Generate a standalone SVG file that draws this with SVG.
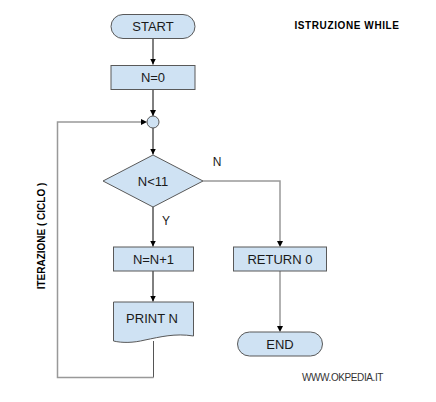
<svg xmlns="http://www.w3.org/2000/svg" width="436" height="402" viewBox="0 0 436 402">
<style>
.sh{fill:#cfe2f3;stroke:#595959;stroke-width:1}
.t{font-family:"Liberation Sans",Arial,sans-serif;font-size:13px;fill:#1a1a1a;text-anchor:middle;dominant-baseline:central}
.b{font-family:"Liberation Sans",Arial,sans-serif;font-weight:bold;font-size:10px;fill:#000}
.k{fill:none;stroke:#000;stroke-width:1}
.g{fill:none;stroke:#999;stroke-width:1.5}
.lb{font-family:"Liberation Sans",Arial,sans-serif;font-size:12px;fill:#1a1a1a}
</style>
<defs>
<marker id="ah" viewBox="0 0 10 10" refX="10" refY="5" markerWidth="6" markerHeight="6" markerUnits="userSpaceOnUse" orient="auto">
<path d="M0 0 L10 5 L0 10 Z" fill="#000"/>
</marker>
</defs>
<rect width="436" height="402" fill="#fff"/>
<g id="connectors">
<path class="k" d="M153 38.5 V64.5" marker-end="url(#ah)"/>
<path class="k" d="M153 89.5 V116" marker-end="url(#ah)"/>
<path class="k" d="M153 128 V154.5" marker-end="url(#ah)"/>
<path class="k" d="M153 206.5 V246.5" marker-end="url(#ah)"/>
<path class="k" d="M153 271 V301.5" marker-end="url(#ah)"/>
<path class="g" d="M203 181 H280 V241"/>
<path d="M277 241 L283 241 L280 247 Z" fill="#000"/>
<path class="g" d="M280 271 V326"/>
<path d="M277 326 L283 326 L280 332 Z" fill="#000"/>
<path fill="none" stroke="#555" stroke-width="1" d="M153.5 341 V377.5"/>
<path class="g" d="M153.5 377.5 H57.5 V122 H141"/>
<path d="M141 119 L147 122 L141 125 Z" fill="#000"/>
</g>
<g id="start"><rect class="sh" x="111" y="14.5" width="84" height="24" rx="12"/><text class="t" x="153" y="26.5">START</text></g>
<g id="n0"><rect class="sh" x="111" y="65.5" width="84" height="24"/><text class="t" x="153" y="77.5">N=0</text></g>
<g id="merge"><circle class="sh" cx="153" cy="122" r="6"/></g>
<g id="cond"><path class="sh" d="M153 155 L203 181 L153 207 L103 181 Z"/><text class="t" x="153" y="181">N&lt;11</text></g>
<g id="inc"><rect class="sh" x="113.5" y="247" width="80" height="24"/><text class="t" x="153.5" y="259">N=N+1</text></g>
<g id="print"><path class="sh" d="M113.5 302 H193.5 V336 C175 333 160 337 145 340 C133 343 122 343 113.5 341 Z"/><text class="t" x="152" y="318">PRINT N</text></g>
<g id="ret"><rect class="sh" x="233.5" y="247" width="93" height="24"/><text class="t" x="280" y="259">RETURN 0</text></g>
<g id="end"><rect class="sh" x="237.5" y="332" width="85" height="24" rx="12"/><text class="t" x="280" y="344">END</text></g>
<g id="labels">
<text class="lb" x="166" y="225" text-anchor="middle">Y</text>
<text class="lb" x="217" y="166" text-anchor="middle">N</text>
<text class="b" x="347" y="28.5" text-anchor="middle" letter-spacing="0.6">ISTRUZIONE WHILE</text>
<text class="b" font-size="11" text-anchor="middle" transform="translate(44.5 236) rotate(-90)">ITERAZIONE ( CICLO )</text>
<text x="342.5" y="381" text-anchor="middle" font-family="Liberation Sans,Arial,sans-serif" font-size="10" letter-spacing="-0.4" fill="#333">WWW.OKPEDIA.IT</text>
</g>
</svg>
